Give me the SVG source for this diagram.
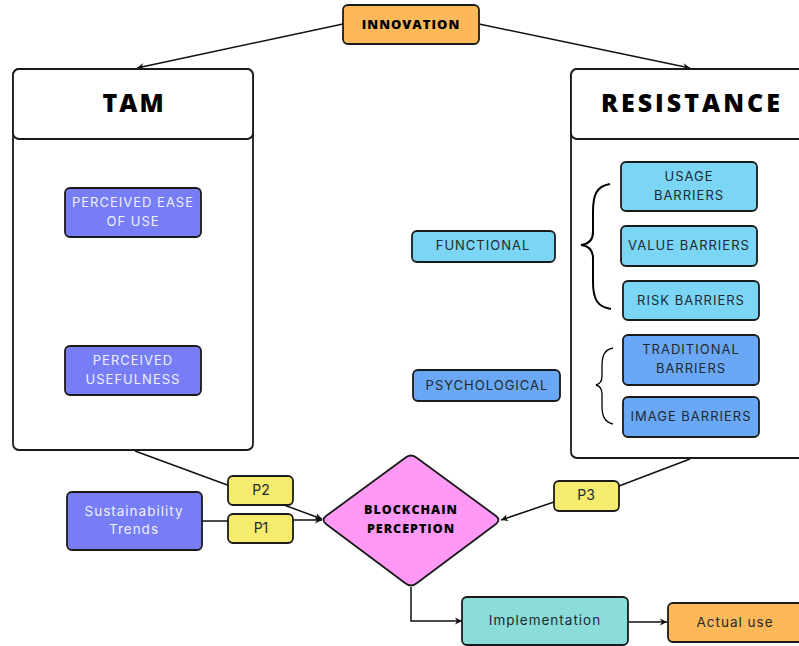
<svg xmlns="http://www.w3.org/2000/svg" width="799" height="646" viewBox="0 0 799 646">
<defs>
<marker id="ah" markerWidth="8" markerHeight="8" refX="7" refY="4" orient="auto" markerUnits="userSpaceOnUse">
<path d="M0,0.5 L7,4 L0,7.5 L2,4 Z" fill="#111"/>
</marker>
<style>
.n{stroke:#1a1a1a;stroke-width:1.8}
.t{font-family:Inter,"Open Sans",sans-serif;font-size:13px;letter-spacing:1px;fill:#1f2a30;text-anchor:middle}
.w{fill:#eef0ff}
.h{font-family:"Open Sans",Inter,sans-serif;font-weight:800;fill:#000;text-anchor:middle;letter-spacing:2px}
.c{fill:none;stroke:#111;stroke-width:1.5}
.br{fill:none;stroke:#000;stroke-width:2}
</style>
</defs>
<rect width="799" height="646" fill="#fff"/>

<g id="connectors">
<line class="c" x1="343" y1="24" x2="137" y2="68" marker-end="url(#ah)"/>
<line class="c" x1="479" y1="24" x2="690" y2="68" marker-end="url(#ah)"/>
<line class="c" x1="133" y1="262" x2="133" y2="329" marker-end="url(#ah)"/>
<line class="c" x1="135" y1="451" x2="230" y2="486"/>
<line class="c" x1="284" y1="505" x2="322" y2="519" marker-end="url(#ah)"/>
<line class="c" x1="202" y1="521" x2="228" y2="521"/>
<line class="c" x1="293" y1="520" x2="322" y2="520" marker-end="url(#ah)"/>
<line class="c" x1="690" y1="459" x2="619" y2="486"/>
<line class="c" x1="554" y1="502" x2="501" y2="520" marker-end="url(#ah)"/>
<polyline class="c" points="411,587 411,621 462,621" marker-end="url(#ah)"/>
<line class="c" x1="629" y1="622" x2="667" y2="622" marker-end="url(#ah)"/>
</g>

<g id="innovation">
<rect class="n" x="343" y="5" width="136" height="39" rx="5" fill="#FDB85A"/>
<text class="h" x="411" y="29" style="font-size:13px;letter-spacing:1px">INNOVATION</text>
</g>

<g id="tam">
<rect class="n" x="13" y="69" width="240" height="381" rx="6" fill="#fff"/>
<rect class="n" x="13" y="69" width="240" height="70" rx="6" fill="#fff"/>
<text class="h" x="134" y="112" style="font-size:25px">TAM</text>
</g>

<g id="resistance">
<rect class="n" x="571" y="69" width="240" height="389" rx="6" fill="#fff"/>
<rect class="n" x="571" y="69" width="240" height="70" rx="6" fill="#fff"/>
<text class="h" x="692" y="112" style="font-size:25px;letter-spacing:3px">RESISTANCE</text>
</g>

<g id="peou">
<rect class="n" x="65" y="188" width="136" height="49" rx="5" fill="#777DF5"/>
<text class="t w" x="133" y="207">PERCEIVED EASE</text>
<text class="t w" x="133" y="226">OF USE</text>
</g>

<g id="pu">
<rect class="n" x="65" y="346" width="136" height="49" rx="5" fill="#777DF5"/>
<text class="t w" x="133" y="365">PERCEIVED</text>
<text class="t w" x="133" y="384">USEFULNESS</text>
</g>

<g id="functional">
<rect class="n" x="412" y="231" width="143" height="31" rx="5" fill="#7BD5F5"/>
<text class="t" x="483" y="250">FUNCTIONAL</text>
</g>

<g id="psychological">
<rect class="n" x="413" y="370" width="147" height="31" rx="5" fill="#6AA8F5"/>
<text class="t" x="487" y="390">PSYCHOLOGICAL</text>
</g>

<g id="usage">
<rect class="n" x="621" y="162" width="136" height="49" rx="5" fill="#7BD5F5"/>
<text class="t" x="689" y="181">USAGE</text>
<text class="t" x="689" y="200">BARRIERS</text>
</g>

<g id="value">
<rect class="n" x="621" y="226" width="136" height="40" rx="5" fill="#7BD5F5"/>
<text class="t" x="689" y="250">VALUE BARRIERS</text>
</g>

<g id="risk">
<rect class="n" x="623" y="281" width="136" height="39" rx="5" fill="#7BD5F5"/>
<text class="t" x="691" y="305">RISK BARRIERS</text>
</g>

<g id="traditional">
<rect class="n" x="623" y="335" width="136" height="50" rx="5" fill="#6AA8F5"/>
<text class="t" x="691" y="354">TRADITIONAL</text>
<text class="t" x="691" y="373">BARRIERS</text>
</g>

<g id="image">
<rect class="n" x="623" y="397" width="136" height="40" rx="5" fill="#6AA8F5"/>
<text class="t" x="691" y="421">IMAGE BARRIERS</text>
</g>

<g id="brace1">
<path class="br" d="M610,184 C596,186 593,196 593,212 L593,232 C593,240 589,244 581,245 C589,246 593,250 593,258 L593,282 C593,300 598,307 611,309"/>
</g>

<g id="brace2">
<path class="br" style="stroke-width:1.3px" d="M613,348 C604,350 602,356 602,366 L602,376 C602,381 600,384 596,385 C600,386 602,389 602,394 L602,406 C602,417 605,422 613,424"/>
</g>

<g id="sustainability">
<rect class="n" x="67" y="492" width="135" height="58" rx="5" fill="#777DF5"/>
<text class="t w" x="134" y="516" style="font-size:13.5px">Sustainability</text>
<text class="t w" x="134" y="534" style="font-size:13.5px">Trends</text>
</g>

<g id="p2">
<rect class="n" x="228" y="476" width="65" height="29" rx="5" fill="#F5EC6E"/>
<text class="t" x="261" y="495" style="letter-spacing:0;font-size:14px">P2</text>
</g>

<g id="p1">
<rect class="n" x="228" y="514" width="65" height="29" rx="5" fill="#F5EC6E"/>
<text class="t" x="261" y="533" style="letter-spacing:0;font-size:14px">P1</text>
</g>

<g id="p3">
<rect class="n" x="554" y="481" width="65" height="30" rx="5" fill="#F5EC6E"/>
<text class="t" x="586" y="500" style="letter-spacing:0;font-size:14px">P3</text>
</g>

<g id="blockchain">
<path class="n" d="M405,458 Q411,453 417,458 L496,516 Q501,520 496,524 L417,583 Q411,588 405,583 L326,524 Q321,520 326,516 Z" fill="#FF99F5" stroke-linejoin="round"/>
<text class="h" x="411" y="514" style="font-size:12.5px;letter-spacing:1px">BLOCKCHAIN</text>
<text class="h" x="411" y="533" style="font-size:12.5px;letter-spacing:1px">PERCEPTION</text>
</g>

<g id="implementation">
<rect class="n" x="462" y="597" width="166" height="48" rx="5" fill="#8ADDD9"/>
<text class="t" x="545" y="625" style="font-size:13.5px">Implementation</text>
</g>

<g id="actualuse">
<rect class="n" x="668" y="603" width="140" height="39" rx="5" fill="#FDB85A"/>
<text class="t" x="735" y="627" style="font-size:13.5px">Actual use</text>
</g>
</svg>
